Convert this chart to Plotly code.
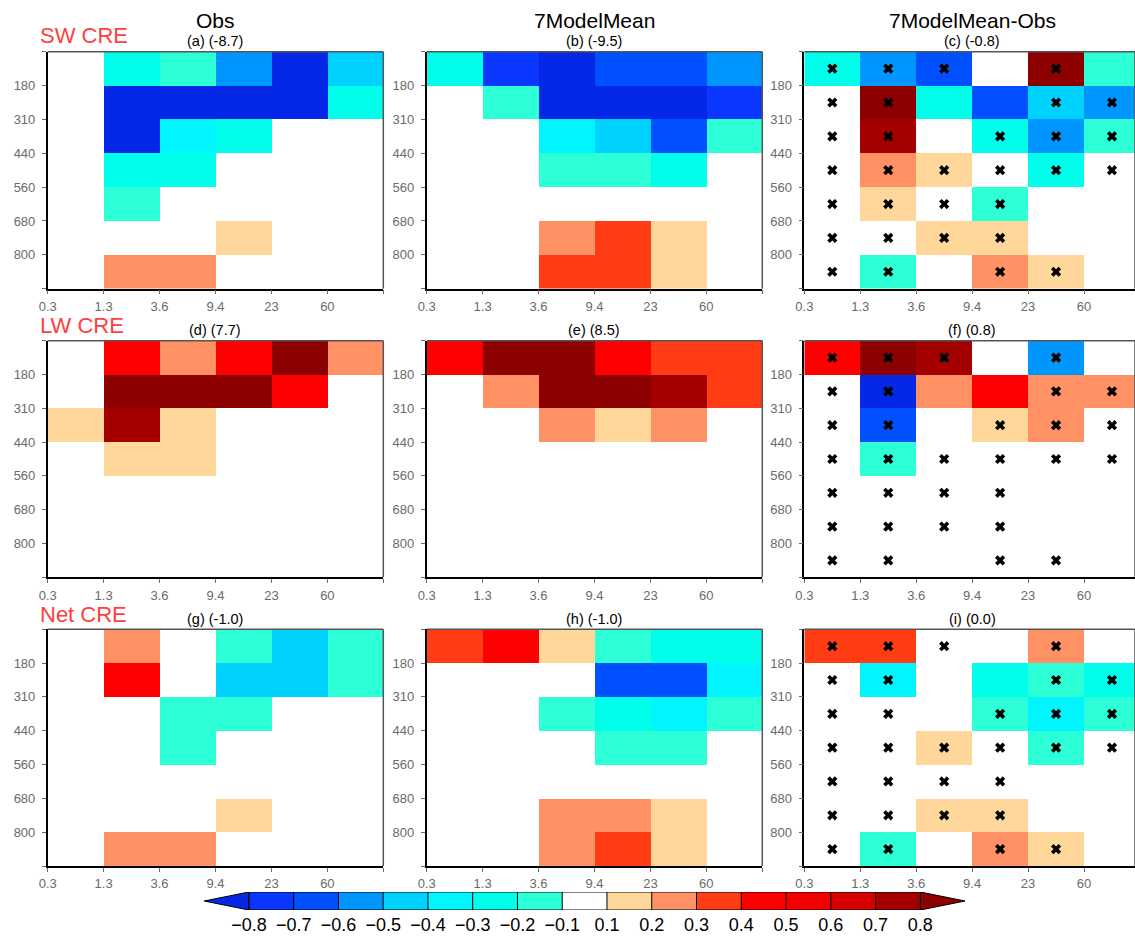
import numpy as np
import plotly.graph_objects as go

# ---- bins -------------------------------------------------------------
tau_labels = ["0.3", "1.3", "3.6", "9.4", "23", "60", ""]          # optical depth bin edges
plev_labels = ["", "180", "310", "440", "560", "680", "800", ""]   # cloud-top pressure bin edges (hPa)

# ---- contour levels and shading ----------------------------------------
levels = [-0.8, -0.7, -0.6, -0.5, -0.4, -0.3, -0.2, -0.1,
          0.1, 0.2, 0.3, 0.4, 0.5, 0.6, 0.7, 0.8]
level_labels = ["\u22120.8", "\u22120.7", "\u22120.6", "\u22120.5", "\u22120.4",
                "\u22120.3", "\u22120.2", "\u22120.1", "0.1", "0.2", "0.3",
                "0.4", "0.5", "0.6", "0.7", "0.8"]
shade_colors = ["#0528E6", "#0A37FF", "#0050FF", "#0096FF", "#00D2FF", "#00F5FF",
                "#00FFEB", "#2DFFD7", "#FFFFFF", "#FFD79B", "#FF9164", "#FF3C14",
                "#FF0000", "#F50000", "#D70000", "#A50000", "#8C0000"]
zlo, zhi = -1.0, 1.0

# ---- CRE per ISCCP bin (rows: pressure top->bottom, cols: tau) ----------
sw_obs = [
    [0, -0.25, -0.15, -0.55, -0.90, -0.45],
    [0, -0.90, -0.90, -0.90, -0.90, -0.25],
    [0, -0.90, -0.35, -0.25, 0, 0],
    [0, -0.25, -0.25, 0, 0, 0],
    [0, -0.15, 0, 0, 0, 0],
    [0, 0, 0, 0.15, 0, 0],
    [0, 0.25, 0.25, 0, 0, 0],
]
sw_mmm = [
    [-0.25, -0.75, -0.90, -0.65, -0.65, -0.55],
    [0, -0.15, -0.90, -0.90, -0.90, -0.75],
    [0, 0, -0.35, -0.45, -0.65, -0.15],
    [0, 0, -0.15, -0.15, -0.25, 0],
    [0, 0, 0, 0, 0, 0],
    [0, 0, 0.25, 0.35, 0.15, 0],
    [0, 0, 0.35, 0.35, 0.15, 0],
]
sw_diff = [
    [-0.25, -0.55, -0.65, 0, 0.90, -0.15],
    [0, 0.90, -0.25, -0.65, -0.45, -0.55],
    [0, 0.75, 0, -0.25, -0.55, -0.15],
    [0, 0.25, 0.15, 0, -0.25, 0],
    [0, 0.15, 0, -0.15, 0, 0],
    [0, 0, 0.15, 0.15, 0, 0],
    [0, -0.15, 0, 0.25, 0.15, 0],
]
lw_obs = [
    [0, 0.45, 0.25, 0.45, 0.90, 0.25],
    [0, 0.90, 0.90, 0.90, 0.45, 0],
    [0.15, 0.75, 0.15, 0, 0, 0],
    [0, 0.15, 0.15, 0, 0, 0],
    [0, 0, 0, 0, 0, 0],
    [0, 0, 0, 0, 0, 0],
    [0, 0, 0, 0, 0, 0],
]
lw_mmm = [
    [0.45, 0.90, 0.90, 0.45, 0.35, 0.35],
    [0, 0.25, 0.90, 0.90, 0.75, 0.35],
    [0, 0, 0.25, 0.15, 0.25, 0],
    [0, 0, 0, 0, 0, 0],
    [0, 0, 0, 0, 0, 0],
    [0, 0, 0, 0, 0, 0],
    [0, 0, 0, 0, 0, 0],
]
lw_diff = [
    [0.45, 0.90, 0.75, 0, -0.55, 0],
    [0, -0.90, 0.25, 0.45, 0.25, 0.25],
    [0, -0.65, 0, 0.15, 0.25, 0],
    [0, -0.15, 0, 0, 0, 0],
    [0, 0, 0, 0, 0, 0],
    [0, 0, 0, 0, 0, 0],
    [0, 0, 0, 0, 0, 0],
]
net_obs = [
    [0, 0.25, 0, -0.15, -0.45, -0.15],
    [0, 0.45, 0, -0.45, -0.45, -0.15],
    [0, 0, -0.15, -0.15, 0, 0],
    [0, 0, -0.15, 0, 0, 0],
    [0, 0, 0, 0, 0, 0],
    [0, 0, 0, 0.15, 0, 0],
    [0, 0.25, 0.25, 0, 0, 0],
]
net_mmm = [
    [0.35, 0.45, 0.15, -0.15, -0.25, -0.25],
    [0, 0, 0, -0.65, -0.65, -0.35],
    [0, 0, -0.15, -0.25, -0.35, -0.15],
    [0, 0, 0, -0.15, -0.15, 0],
    [0, 0, 0, 0, 0, 0],
    [0, 0, 0.25, 0.25, 0.15, 0],
    [0, 0, 0.25, 0.35, 0.15, 0],
]
net_diff = [
    [0.35, 0.35, 0, 0, 0.25, 0],
    [0, -0.35, 0, -0.25, -0.15, -0.25],
    [0, 0, 0, -0.15, -0.35, -0.15],
    [0, 0, 0.15, 0, -0.15, 0],
    [0, 0, 0, 0, 0, 0],
    [0, 0, 0.15, 0.15, 0, 0],
    [0, -0.15, 0, 0.25, 0.15, 0],
]
# bins where the model-obs difference is not significant (marked with x)
insignificant = [
    [1, 1, 1, 0, 1, 0],
    [1, 1, 0, 0, 1, 1],
    [1, 1, 0, 1, 1, 1],
    [1, 1, 1, 1, 1, 1],
    [1, 1, 1, 1, 0, 0],
    [1, 1, 1, 1, 0, 0],
    [1, 1, 0, 1, 1, 0],
]

col_titles = ["Obs", "7ModelMean", "7ModelMean-Obs"]
row_titles = ["SW CRE", "LW CRE", "Net CRE"]
panel_titles = [["(a) (-8.7)", "(b) (-9.5)", "(c) (-0.8)"],
                ["(d) (7.7)", "(e) (8.5)", "(f) (0.8)"],
                ["(g) (-1.0)", "(h) (-1.0)", "(i) (0.0)"]]
panels = [[sw_obs, sw_mmm, sw_diff],
          [lw_obs, lw_mmm, lw_diff],
          [net_obs, net_mmm, net_diff]]

# ---- discrete colour scale ------------------------------------------------
edges = [zlo] + levels + [zhi]
colorscale = []
for i, c in enumerate(shade_colors):
    a = (edges[i] - zlo) / (zhi - zlo)
    b = (edges[i + 1] - zlo) / (zhi - zlo)
    colorscale.append([a, c])
    colorscale.append([b, c])

# ---- page geometry (pixels) --------------------------------------------
W, H = 1135, 938
col_px = [(39.0, 377.3), (421.0, 759.3), (801.7, 1135.0)]
row_px = [(51.7, 288.7), (340.7, 577.3), (629.3, 866.0)]
panel_w = 377.3 - 39.0
cell_w = panel_w / 6.0

def px_x(v):
    return v / W

def px_y(v):
    return 1 - v / H

FONT = "Liberation Sans"
GRAY = "#6a6a6a"

fig = go.Figure()
layout = {}
annotations = []
shapes = []

ntau = len(tau_labels) - 1
nplev = len(plev_labels) - 1
xc = np.arange(ntau) + 0.5
yc = np.arange(nplev) + 0.5

k = 0
for r in range(3):
    for c in range(3):
        k += 1
        xa = "x" if k == 1 else f"x{k}"
        ya = "y" if k == 1 else f"y{k}"
        z = np.array(panels[r][c], dtype=float)
        fig.add_trace(go.Heatmap(
            x=xc, y=yc, z=z, colorscale=colorscale, zmin=zlo, zmax=zhi,
            showscale=False, hoverinfo="skip", xaxis=xa, yaxis=ya))
        if c == 2:
            m = np.array(insignificant)
            jj, ii = np.nonzero(m)
            fig.add_trace(go.Scatter(
                x=xc[ii], y=yc[jj], mode="markers", xaxis=xa, yaxis=ya,
                marker=dict(symbol="x", size=9, color="black",
                            line=dict(width=0)),
                hoverinfo="skip", showlegend=False))
        x0, x1 = col_px[c]
        y0, y1 = row_px[r]
        xr = [0, (x1 - x0) / cell_w]
        layout["xaxis" if k == 1 else f"xaxis{k}"] = dict(
            domain=[px_x(x0), px_x(x1)], range=xr, anchor=ya,
            tickmode="array", tickvals=list(range(ntau + 1)), ticktext=tau_labels,
            ticks="outside", ticklen=4, tickcolor=GRAY, tickwidth=1,
            tickfont=dict(family=FONT, size=13, color=GRAY),
            ticklabelstandoff=1,
            showline=True, linecolor="black", linewidth=1.5, mirror=False,
            showgrid=False, zeroline=False, fixedrange=True)
        layout["yaxis" if k == 1 else f"yaxis{k}"] = dict(
            domain=[px_y(y1), px_y(y0)], range=[nplev, 0], anchor=xa,
            tickmode="array", tickvals=list(range(nplev + 1)), ticktext=plev_labels,
            ticks="outside", ticklen=4, tickcolor=GRAY, tickwidth=1,
            tickfont=dict(family=FONT, size=13, color=GRAY),
            ticklabelstandoff=4,
            showline=True, linecolor="black", linewidth=1.5, mirror=False,
            showgrid=False, zeroline=False, fixedrange=True)
        # top and right frame edges
        shapes.append(dict(type="line", xref=f"{xa} domain", yref=f"{ya} domain",
                           x0=0, x1=1, y0=1, y1=1,
                           line=dict(color="#555555", width=1.5)))
        shapes.append(dict(type="line", xref=f"{xa} domain", yref=f"{ya} domain",
                           x0=1, x1=1, y0=0, y1=1,
                           line=dict(color="#555555", width=1.5)))
        # panel caption
        annotations.append(dict(
            text=panel_titles[r][c], x=px_x(x0 + 0.5 * panel_w),
            y=px_y(y0 - 10.7), xref="paper", yref="paper", showarrow=False,
            xanchor="center", yanchor="middle",
            font=dict(family=FONT, size=14.5, color="black")))

# column headers
for c in range(3):
    x0 = col_px[c][0]
    annotations.append(dict(
        text=col_titles[c], x=px_x(x0 + 0.5 * panel_w), y=px_y(21),
        xref="paper", yref="paper", showarrow=False, xanchor="center",
        yanchor="middle", font=dict(family=FONT, size=21, color="black")))

# row headers
for r, yy in enumerate([36, 325, 614]):
    annotations.append(dict(
        text=row_titles[r], x=px_x(29), y=px_y(yy), xref="paper", yref="paper",
        showarrow=False, xanchor="left", yanchor="middle",
        font=dict(family=FONT, size=22, color="#FF4040")))

# ---- colour bar drawn as its own axis ----------------------------------
nb = len(levels) - 1
cb_vals = [(levels[i] + levels[i + 1]) / 2 for i in range(nb)]
cbx = "x10"
cby = "y10"
fig.add_trace(go.Heatmap(
    x=np.arange(nb) + 0.5, y=[0.5], z=[cb_vals], colorscale=colorscale,
    zmin=zlo, zmax=zhi, showscale=False, hoverinfo="skip",
    xaxis=cbx, yaxis=cby))
# end triangles for values beyond the outer levels
fig.add_trace(go.Scatter(
    x=[0, -1, 0, 0], y=[0, 0.5, 1, 0], mode="lines", fill="toself",
    fillcolor=shade_colors[0], line=dict(color="black", width=1),
    xaxis=cbx, yaxis=cby, hoverinfo="skip", showlegend=False))
fig.add_trace(go.Scatter(
    x=[nb, nb + 1, nb, nb], y=[0, 0.5, 1, 0], mode="lines", fill="toself",
    fillcolor=shade_colors[-1], line=dict(color="black", width=1),
    xaxis=cbx, yaxis=cby, hoverinfo="skip", showlegend=False))
# box separators and outline
sx, sy = [], []
for i in range(nb + 1):
    sx += [i, i, None]
    sy += [0, 1, None]
sx += [0, nb, None, 0, nb]
sy += [0, 0, None, 1, 1]
fig.add_trace(go.Scatter(
    x=sx, y=sy, mode="lines", line=dict(color="black", width=1),
    xaxis=cbx, yaxis=cby, hoverinfo="skip", showlegend=False))

layout["xaxis10"] = dict(
    domain=[px_x(196.7), px_x(963.7)], range=[-1, nb + 1], anchor=cby,
    tickmode="array", tickvals=list(range(nb + 1)), ticktext=level_labels,
    ticks="", tickfont=dict(family=FONT, size=18, color="black"),
    ticklabelstandoff=2,
    showline=False, showgrid=False, zeroline=False, fixedrange=True)
layout["yaxis10"] = dict(
    domain=[px_y(910), px_y(892)], range=[0, 1], anchor=cbx,
    showticklabels=False, ticks="", showline=False, showgrid=False,
    zeroline=False, fixedrange=True)

fig.update_layout(
    width=W, height=H, margin=dict(l=0, r=0, t=0, b=0),
    paper_bgcolor="white", plot_bgcolor="white", showlegend=False,
    annotations=annotations, shapes=shapes, **layout)

fig.write_html("out.html")
